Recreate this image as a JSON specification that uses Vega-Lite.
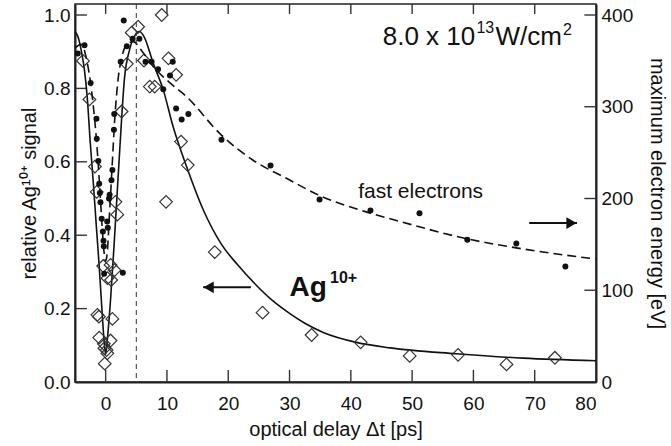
{
  "$schema": "https://vega.github.io/schema/vega-lite/v6.json",
  "width": 521,
  "height": 378,
  "autosize": {"type": "none"},
  "padding": {"left": 75, "top": 4, "right": 75, "bottom": 64},
  "background": "white",
  "config": {
    "font": "Liberation Sans",
    "view": {"stroke": "#222", "strokeWidth": 1.5},
    "axis": {
      "grid": false,
      "zindex": 1,
      "domainColor": "#222",
      "domainWidth": 2,
      "ticks": false,
      "labelColor": "#111",
      "titleColor": "#111",
      "labelFont": "Liberation Sans",
      "titleFont": "Liberation Sans",
      "labelFontSize": 19,
      "titleFontSize": 20,
      "titleFontWeight": "normal"
    }
  },
  "resolve": {"scale": {"y": "independent"}, "axis": {"x": "independent", "y": "independent"}},
  "layer": [
    {
      "encoding": {
        "x": {"field": "x", "type": "quantitative", "scale": {"domain": [-5, 80], "nice": false, "zero": false},
              "axis": {"orient": "bottom", "values": [0, 10, 20, 30, 40, 50, 60, 70, 80], "labelPadding": 12, "title": "optical delay Δt [ps]", "titlePadding": 6}},
        "y": {"field": "v", "type": "quantitative", "scale": {"domain": [0, 1.03], "nice": false, "zero": false},
              "axis": {"orient": "left", "values": [0, 0.2, 0.4, 0.6, 0.8, 1.0], "format": ".1f", "labelPadding": 5, "title": "relative Ag¹⁰⁺ signal", "titlePadding": 4}}
      },
      "layer": [
        {
          "data": {"values": [
            {"x": 0, "v": 0, "v2": 0.033}, {"x": 10, "v": 0, "v2": 0.033}, {"x": 20, "v": 0, "v2": 0.033},
            {"x": 30, "v": 0, "v2": 0.033}, {"x": 40, "v": 0, "v2": 0.033}, {"x": 50, "v": 0, "v2": 0.033},
            {"x": 60, "v": 0, "v2": 0.033}, {"x": 70, "v": 0, "v2": 0.033},
            {"x": 0, "v": 1.03, "v2": 1.003}, {"x": 10, "v": 1.03, "v2": 1.003}, {"x": 20, "v": 1.03, "v2": 1.003},
            {"x": 30, "v": 1.03, "v2": 1.003}, {"x": 40, "v": 1.03, "v2": 1.003}, {"x": 50, "v": 1.03, "v2": 1.003},
            {"x": 60, "v": 1.03, "v2": 1.003}, {"x": 70, "v": 1.03, "v2": 1.003}
          ]},
          "mark": {"type": "rule", "color": "#333", "strokeWidth": 1.4},
          "encoding": {"y2": {"field": "v2"}}
        },
        {
          "data": {"values": [
            {"x": -5, "x2": -3.05, "v": 0.2}, {"x": -5, "x2": -3.05, "v": 0.4}, {"x": -5, "x2": -3.05, "v": 0.6},
            {"x": -5, "x2": -3.05, "v": 0.8}, {"x": -5, "x2": -3.05, "v": 1.0}
          ]},
          "mark": {"type": "rule", "color": "#333", "strokeWidth": 1.4},
          "encoding": {"x2": {"field": "x2"}}
        },
        {
          "data": {"values": [
            {"x": -5, "v": 0.955}, {"x": -4.5, "v": 0.94}, {"x": -4, "v": 0.905}, {"x": -3.5, "v": 0.855},
            {"x": -3, "v": 0.775}, {"x": -2.5, "v": 0.65}, {"x": -2, "v": 0.54}, {"x": -1.5, "v": 0.42},
            {"x": -1.05, "v": 0.315}, {"x": -0.5, "v": 0.17}, {"x": -0.25, "v": 0.11}, {"x": 0, "v": 0.075},
            {"x": 0.3, "v": 0.12}, {"x": 0.8, "v": 0.224}, {"x": 1.5, "v": 0.407}, {"x": 2.3, "v": 0.633},
            {"x": 3.1, "v": 0.832}, {"x": 3.9, "v": 0.905}, {"x": 4.8, "v": 0.945}, {"x": 5.5, "v": 0.955},
            {"x": 6.3, "v": 0.94}, {"x": 7.75, "v": 0.869}, {"x": 9.4, "v": 0.796}, {"x": 11.0, "v": 0.696},
            {"x": 13.2, "v": 0.587}, {"x": 15.9, "v": 0.47}, {"x": 18.9, "v": 0.375}, {"x": 21.5, "v": 0.32},
            {"x": 24.5, "v": 0.265}, {"x": 27, "v": 0.225}, {"x": 30.0, "v": 0.187}, {"x": 32.5, "v": 0.16},
            {"x": 35.5, "v": 0.135}, {"x": 40.9, "v": 0.108}, {"x": 46.4, "v": 0.093}, {"x": 57.2, "v": 0.077},
            {"x": 68.1, "v": 0.065}, {"x": 80, "v": 0.058}
          ]},
          "mark": {"type": "line", "interpolate": "monotone", "color": "#111", "strokeWidth": 1.6}
        },
        {
          "data": {"values": [
            {"x": -3.7, "v": 0.875}, {"x": -2.65, "v": 0.77}, {"x": -1.75, "v": 0.587}, {"x": -1.45, "v": 0.518},
            {"x": -1.35, "v": 0.183}, {"x": -1.1, "v": 0.178}, {"x": -1.05, "v": 0.121}, {"x": -0.4, "v": 0.316},
            {"x": -0.3, "v": 0.104}, {"x": -0.2, "v": 0.092}, {"x": -0.15, "v": 0.05}, {"x": 0.15, "v": 0.087},
            {"x": 0.27, "v": 0.078}, {"x": 0.3, "v": 0.283}, {"x": 0.8, "v": 0.113}, {"x": 0.9, "v": 0.278},
            {"x": 0.8, "v": 0.319}, {"x": 1.1, "v": 0.172}, {"x": 1.45, "v": 0.305}, {"x": 1.6, "v": 0.491},
            {"x": 1.9, "v": 0.456}, {"x": 2.6, "v": 0.737}, {"x": 3.45, "v": 0.867}, {"x": 4.25, "v": 0.952},
            {"x": 5.3, "v": 0.968}, {"x": 6.25, "v": 0.876}, {"x": 7.2, "v": 0.805}, {"x": 8.0, "v": 0.805},
            {"x": 9.15, "v": 1.0}, {"x": 9.85, "v": 0.491}, {"x": 10.25, "v": 0.882}, {"x": 11.5, "v": 0.837},
            {"x": 12.3, "v": 0.655}, {"x": 13.4, "v": 0.591}, {"x": 17.8, "v": 0.354}, {"x": 25.6, "v": 0.189},
            {"x": 33.6, "v": 0.128}, {"x": 41.6, "v": 0.108}, {"x": 49.6, "v": 0.071}, {"x": 57.5, "v": 0.074},
            {"x": 65.4, "v": 0.048}, {"x": 73.3, "v": 0.066}
          ]},
          "mark": {"type": "point", "shape": "diamond", "size": 160, "filled": false, "stroke": "#333", "strokeWidth": 1.2, "opacity": 1}
        },
        {
          "data": {"values": [{"x": 15.9, "x2": 23.7, "v": 0.258}, {"x": 69.1, "x2": 76.9, "v": 0.433}]},
          "mark": {"type": "rule", "color": "#111", "strokeWidth": 2},
          "encoding": {"x2": {"field": "x2"}}
        },
        {
          "data": {"values": [{"x": 16.8, "v": 0.258}]},
          "mark": {"type": "point", "shape": "triangle-left", "filled": true, "color": "#111", "size": 140, "opacity": 1}
        },
        {
          "data": {"values": [{"x": 76.0, "v": 0.433}]},
          "mark": {"type": "point", "shape": "triangle-right", "filled": true, "color": "#111", "size": 140, "opacity": 1}
        },
        {
          "data": {"values": [{"x": 45.2, "v": 0.918, "t": "8.0 x 10"}, {"x": 63.6, "v": 0.918, "t": "W/cm"}]},
          "mark": {"type": "text", "align": "left", "baseline": "alphabetic", "fontSize": 26, "color": "#111", "font": "Liberation Sans"},
          "encoding": {"text": {"field": "t"}}
        },
        {
          "data": {"values": [{"x": 60.5, "v": 0.95, "t": "13"}, {"x": 74.6, "v": 0.945, "t": "2"}]},
          "mark": {"type": "text", "align": "left", "baseline": "alphabetic", "fontSize": 16, "color": "#111", "font": "Liberation Sans"},
          "encoding": {"text": {"field": "t"}}
        },
        {
          "data": {"values": [{"x": 41.2, "v": 0.501, "t": "fast electrons"}]},
          "mark": {"type": "text", "align": "left", "baseline": "alphabetic", "fontSize": 21, "color": "#111", "font": "Liberation Sans"},
          "encoding": {"text": {"field": "t"}}
        },
        {
          "data": {"values": [{"x": 30.0, "v": 0.2335, "t": "Ag"}]},
          "mark": {"type": "text", "align": "left", "baseline": "alphabetic", "fontSize": 28, "fontWeight": "bold", "color": "#111", "font": "Liberation Sans"},
          "encoding": {"text": {"field": "t"}}
        },
        {
          "data": {"values": [{"x": 36.6, "v": 0.27, "t": "10+"}]},
          "mark": {"type": "text", "align": "left", "baseline": "alphabetic", "fontSize": 16, "fontWeight": "bold", "color": "#111", "font": "Liberation Sans"},
          "encoding": {"text": {"field": "t"}}
        }
      ]
    },
    {
      "encoding": {
        "x": {"field": "x", "type": "quantitative", "scale": {"domain": [-5, 80], "nice": false, "zero": false}, "axis": null},
        "y": {"field": "E", "type": "quantitative", "scale": {"domain": [0, 412], "nice": false, "zero": false},
              "axis": {"orient": "right", "values": [0, 100, 200, 300, 400], "labelPadding": 5, "title": "maximum electron energy [eV]", "titlePadding": 14}}
      },
      "layer": [
        {
          "data": {"values": [
            {"x": 80, "x2": 78.1, "E": 100}, {"x": 80, "x2": 78.1, "E": 200}, {"x": 80, "x2": 78.1, "E": 300},
            {"x": 80, "x2": 78.1, "E": 400}
          ]},
          "mark": {"type": "rule", "color": "#333", "strokeWidth": 1.4},
          "encoding": {"x2": {"field": "x2"}}
        },
        {
          "data": {"values": [
            {"x": -5, "E": 364}, {"x": -4, "E": 368}, {"x": -3.5, "E": 362}, {"x": -3, "E": 348},
            {"x": -2.5, "E": 328}, {"x": -2, "E": 300}, {"x": -1.5, "E": 264}, {"x": -1, "E": 216},
            {"x": -0.6, "E": 172}, {"x": -0.3, "E": 144}, {"x": 0, "E": 132}, {"x": 0.3, "E": 144},
            {"x": 0.6, "E": 180}, {"x": 1.0, "E": 228}, {"x": 1.5, "E": 288}, {"x": 2.0, "E": 328},
            {"x": 2.7, "E": 356}, {"x": 3.5, "E": 368}, {"x": 4.5, "E": 371}, {"x": 6, "E": 360},
            {"x": 7.75, "E": 344}, {"x": 10.5, "E": 326}, {"x": 13.2, "E": 311}, {"x": 18.6, "E": 271},
            {"x": 24.0, "E": 242}, {"x": 29.5, "E": 222}, {"x": 35.0, "E": 203}, {"x": 43.2, "E": 184},
            {"x": 48, "E": 175}, {"x": 59, "E": 156}, {"x": 68.1, "E": 145}, {"x": 80, "E": 134}
          ]},
          "mark": {"type": "line", "interpolate": "monotone", "color": "#111", "strokeWidth": 1.6, "strokeDash": [9, 5]}
        },
        {
          "data": {"values": [
            {"x": -4.55, "E": 358}, {"x": -3.45, "E": 367}, {"x": -2.45, "E": 326}, {"x": -1.5, "E": 287},
            {"x": -1.45, "E": 265}, {"x": -1.2, "E": 241}, {"x": -1.05, "E": 216}, {"x": -0.95, "E": 206},
            {"x": -0.85, "E": 196}, {"x": -0.65, "E": 178}, {"x": -0.45, "E": 164}, {"x": -0.35, "E": 154},
            {"x": -0.3, "E": 148}, {"x": -0.25, "E": 118}, {"x": 0.25, "E": 175}, {"x": 0.35, "E": 168},
            {"x": 0.55, "E": 200}, {"x": 0.65, "E": 204}, {"x": 0.95, "E": 220}, {"x": 1.1, "E": 231},
            {"x": 1.35, "E": 275}, {"x": 1.4, "E": 292}, {"x": 2.45, "E": 349}, {"x": 2.95, "E": 394},
            {"x": 2.8, "E": 119}, {"x": 3.45, "E": 366}, {"x": 4.4, "E": 374}, {"x": 5.5, "E": 374},
            {"x": 6.5, "E": 349}, {"x": 7.5, "E": 349}, {"x": 8.55, "E": 341}, {"x": 9.4, "E": 319},
            {"x": 10.5, "E": 334}, {"x": 10.95, "E": 349}, {"x": 11.5, "E": 298}, {"x": 12.4, "E": 286},
            {"x": 13.5, "E": 292}, {"x": 18.9, "E": 264}, {"x": 26.9, "E": 236}, {"x": 34.9, "E": 199},
            {"x": 43.2, "E": 187}, {"x": 51.2, "E": 184}, {"x": 59.0, "E": 155}, {"x": 67.0, "E": 151},
            {"x": 75.0, "E": 126}
          ]},
          "mark": {"type": "circle", "size": 36, "color": "#111", "opacity": 1}
        }
      ]
    },
    {
      "data": {"values": [{"x": 5}]},
      "mark": {"type": "rule", "strokeDash": [5, 4], "strokeWidth": 1, "color": "#333"},
      "encoding": {
        "x": {"field": "x", "type": "quantitative", "scale": {"domain": [-5, 80], "nice": false, "zero": false}, "axis": null}
      }
    }
  ]
}
